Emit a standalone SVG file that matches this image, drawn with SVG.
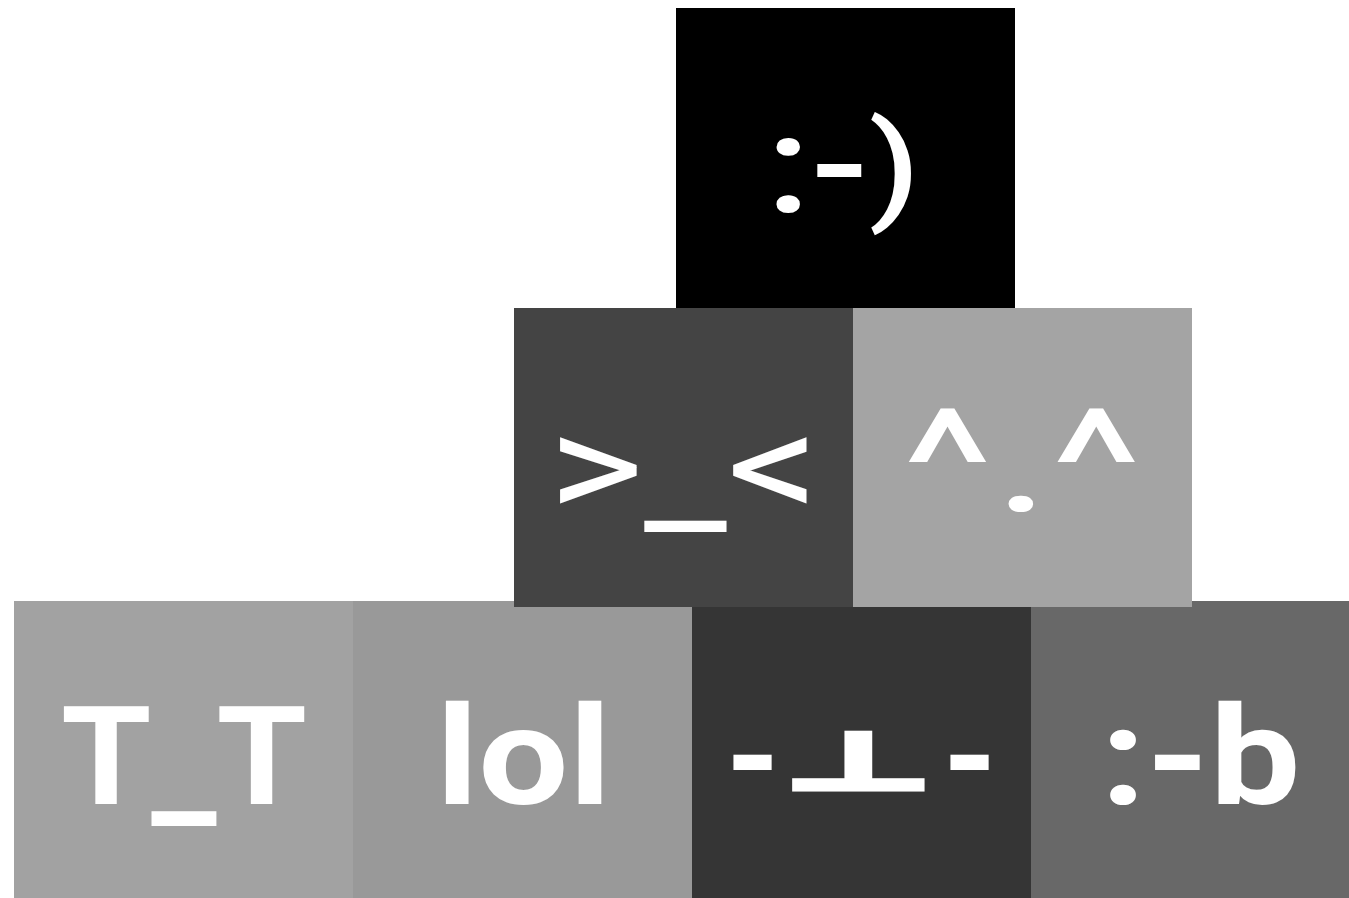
<svg xmlns="http://www.w3.org/2000/svg" width="1349" height="898" viewBox="0 0 1349 898">
<style>
.t{fill:#fff;font-family:Roboto,"DejaVu Sans",sans-serif;font-size:138px;text-anchor:middle}
.b{font-weight:700}
.m{font-weight:400;font-size:150px}
.s{font-weight:500}
.tack{font-family:"DejaVu Sans",sans-serif;font-size:79px;stroke:#fff;stroke-width:5;stroke-linejoin:miter}
</style>
<rect width="1349" height="898" fill="#fff"/>
<g id="n-tt"><rect x="14" y="601" width="339" height="297" fill="#a2a2a2"/><text class="t b" x="184" y="804" textLength="246" lengthAdjust="spacingAndGlyphs">T<tspan dy="7">_</tspan><tspan dy="-7">T</tspan></text></g>
<g id="n-lol"><rect x="353" y="601" width="339" height="297" fill="#999999"/><text class="t b" x="523.5" y="804" textLength="175" lengthAdjust="spacingAndGlyphs">lol</text></g>
<g id="n-tack"><rect x="692" y="601" width="339" height="297" fill="#353535"/><text class="t b" y="804"><tspan x="753">-</tspan><tspan class="tack" x="858" dy="-15.5" textLength="150" lengthAdjust="spacingAndGlyphs">⊥</tspan><tspan x="970" dy="15.5">-</tspan></text></g>
<g id="n-b"><rect x="1031" y="601" width="339" height="297" fill="#686868"/><text class="t b" x="1200.5" y="804" textLength="200" lengthAdjust="spacingAndGlyphs">:-b</text></g>
<g id="n-angry"><rect x="514" y="308" width="339" height="299" fill="#444444"/><text class="t m" x="684" y="518" textLength="272" lengthAdjust="spacingAndGlyphs">&gt;<tspan dy="3">_</tspan><tspan dy="-3">&lt;</tspan></text></g>
<g id="n-happy"><rect x="853" y="308" width="339" height="299" fill="#a4a4a4"/><text class="t m" x="1022" y="516" textLength="240" lengthAdjust="spacingAndGlyphs">^<tspan dy="-5">.</tspan><tspan dy="5">^</tspan></text></g>
<g id="n-smile"><rect x="676" y="8" width="339" height="300" fill="#000000"/><text class="t s" x="843" y="212" textLength="154" lengthAdjust="spacingAndGlyphs">:-<tspan style="font-size:120px" dy="-4">)</tspan></text></g>
<g id="connectors"/>
</svg>
